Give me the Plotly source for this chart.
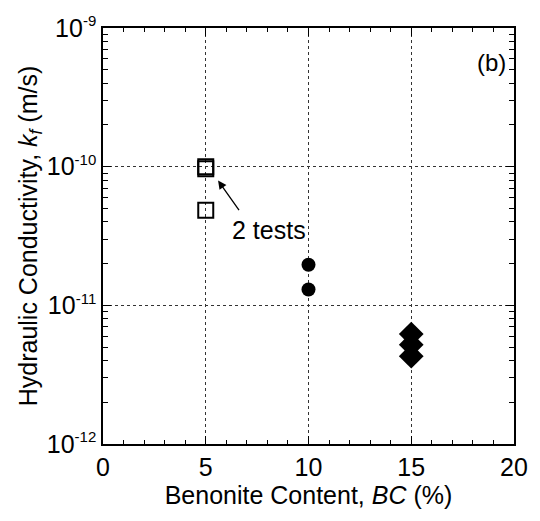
import plotly.graph_objects as go

bc_5 = [5, 5, 5]
k_5 = [1.0e-10, 0.965e-10, 4.85e-11]
bc_10 = [10, 10]
k_10 = [1.96e-11, 1.30e-11]
bc_15 = [15, 15, 15]
k_15 = [6.2e-12, 5.2e-12, 4.3e-12]

ytick_vals = [1e-12, 1e-11, 1e-10, 1e-9]
ytick_text = ["10<sup><span style='font-size:15px'>-12</span></sup>",
              "10<sup><span style='font-size:15px'>-11</span></sup>",
              "10<sup><span style='font-size:15px'>-10</span></sup>",
              "10<sup><span style='font-size:15px'>-9</span></sup>"]
ytick_minor = [m * 10.0 ** e for e in (-12, -11, -10) for m in range(2, 10)]
xtick_vals = [0, 5, 10, 15, 20]

fig = go.Figure()
fig.add_trace(go.Scatter(x=bc_5, y=k_5, mode="markers",
                         marker=dict(symbol="square-open", size=15, color="black", line=dict(width=2))))
fig.add_trace(go.Scatter(x=bc_10, y=k_10, mode="markers",
                         marker=dict(symbol="circle", size=14, color="black")))
fig.add_trace(go.Scatter(x=bc_15, y=k_15, mode="markers",
                         marker=dict(symbol="diamond", size=19, color="black")))

font = "Liberation Sans, Arial, sans-serif"
fig.update_layout(
    width=540, height=521,
    margin=dict(l=103, r=18, t=24, b=77),
    paper_bgcolor="white", plot_bgcolor="white",
    showlegend=False,
    font=dict(family=font, size=24, color="black"),
    xaxis=dict(range=[0, 20], tickvals=xtick_vals, ticks="inside", ticklen=8, tickcolor="black",
               showline=True, linecolor="black", linewidth=1.5, mirror="allticks",
               showgrid=True, gridcolor="#333", griddash="dot", gridwidth=1,
               zeroline=False,
               minor=dict(dtick=1, ticks="inside", ticklen=4, tickcolor="black", showgrid=False),
               title=dict(text="Benonite Content, <i>BC</i> (%)", standoff=4, font=dict(size=25)),
               tickfont=dict(size=25)),
    yaxis=dict(type="log", range=[-12, -9], tickvals=ytick_vals, ticktext=ytick_text,
               ticks="inside", ticklen=8, tickcolor="black",
               showline=True, linecolor="black", linewidth=1.5, mirror="allticks",
               showgrid=True, gridcolor="#333", griddash="dot", gridwidth=1,
               zeroline=False,
               minor=dict(tickvals=ytick_minor, ticks="inside", ticklen=5, tickcolor="black", showgrid=False),
               title=dict(text="Hydraulic Conductivity, <i>k</i><sub><i>f</i></sub> (m/s)", standoff=2,
                          font=dict(size=25)),
               tickfont=dict(size=25)),
)
fig.add_annotation(x=5.6, y=-10.1, xref="x", yref="y", ax=22, ay=31,
                   text="", showarrow=True, arrowhead=2, arrowsize=1.3, arrowwidth=1.3, arrowcolor="black")
fig.add_annotation(x=8.1, y=-10.46, xref="x", yref="y", text="2 tests", showarrow=False,
                   font=dict(size=25), xanchor="center", yanchor="middle")
fig.add_annotation(x=0.985, y=0.955, xref="paper", yref="paper", text="(b)", showarrow=False,
                   font=dict(size=24), xanchor="right", yanchor="top")
fig.write_html("out.html")
